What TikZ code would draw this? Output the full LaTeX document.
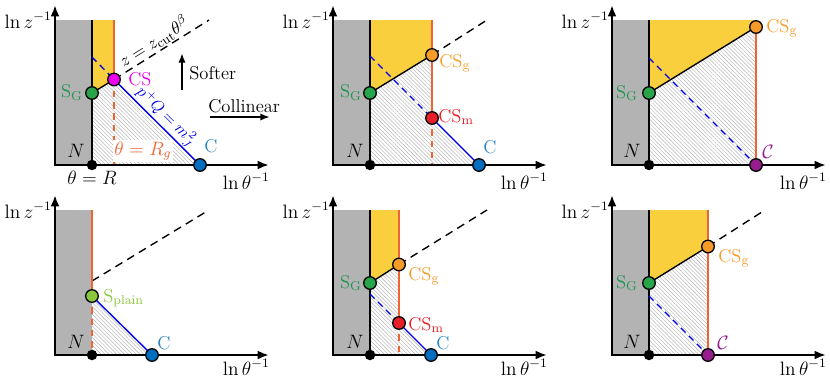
\documentclass[tikz,border=0pt]{standalone}
\usetikzlibrary{arrows.meta,patterns.meta,calc}
\definecolor{grayreg}{RGB}{179,179,179}
\definecolor{yel}{RGB}{250,207,62}
\definecolor{orline}{RGB}{240,100,50}
\definecolor{orpt}{RGB}{246,155,40}
\definecolor{mag}{RGB}{236,0,236}
\definecolor{grn}{RGB}{40,165,75}
\definecolor{grnlab}{RGB}{30,150,80}
\definecolor{lgrn}{RGB}{140,200,60}
\definecolor{redpt}{RGB}{232,30,40}
\definecolor{bluept}{RGB}{0,110,190}
\definecolor{bluelab}{RGB}{40,130,200}
\definecolor{purp}{RGB}{150,30,140}
\definecolor{bline}{RGB}{0,0,235}
\begin{document}
\begin{tikzpicture}[x=0.62pt,y=0.62pt,
  every node/.style={font=\fontsize{11.5}{13.8}\selectfont},
  zfont/.style={font=\fontsize{11}{13}\selectfont},
  pqfont/.style={font=\fontsize{10}{12}\selectfont},
  axis/.style={line width=1.4pt,{Latex[length=7pt,width=5.5pt]}-{Latex[length=7pt,width=5.5pt]}},
  bnd/.style={line width=0.85pt},
  zdash/.style={line width=0.85pt,dash pattern=on 5pt off 3.5pt},
  bl/.style={line width=0.85pt,bline},
  bldash/.style={line width=0.85pt,bline,dash pattern=on 4pt off 3pt},
  orl/.style={line width=0.75pt,orline},
  ordash/.style={line width=0.75pt,orline,dash pattern=on 4pt off 3pt},
  hatch/.style={pattern={Lines[angle=-45,distance=1.7pt,line width=0.28pt]},pattern color=gray!60},
  pt/.style={circle,draw=black,line width=0.8pt,minimum size=7.8pt,inner sep=0pt},
  ndot/.style={circle,fill=black,minimum size=6.5pt,inner sep=0pt},
  lab/.style={inner sep=0pt},
  arr/.style={line width=1pt,-{Latex[length=6pt,width=4.5pt]}},
]
\useasboundingbox (0,0) rectangle (830,381);

% ================= Panel 1 =================
\begin{scope}[shift={(55,216)}]
\coordinate (N1) at (37,0);
\coordinate (SG1) at (37,72);
\coordinate (CS1) at (59,85.5);
\coordinate (C1) at (145,0);
\coordinate (T1) at (37,145);
\coordinate (OT1) at (59,145);
\coordinate (OB1) at (59,0);
\coordinate (Z1) at (154,145);
\coordinate (B1) at (37,108);
\fill[grayreg] (0,0) rectangle (T1);
\fill[yel] (SG1) -- (T1) -- (OT1) -- (CS1) -- cycle;
\fill[hatch] (N1) -- (SG1) -- (CS1) -- (C1) -- cycle;
\draw[bnd] (N1) -- (T1);
\draw[bnd] (SG1) -- (CS1);
\draw[zdash] (CS1) -- (Z1) node[pos=0.48,above,sloped,inner sep=0.8pt,zfont] (zl1) {$z=z_{\rm cut}\theta^\beta$};
\draw[orl] (OT1) -- (CS1);
\draw[ordash] (CS1) -- (OB1);
\draw[bldash] (B1) -- (CS1);
\draw[bl] (CS1) -- (C1) node[pos=0.52,above,sloped,inner sep=0.8pt,text=bline,pqfont] (pq1) {$p^+Q=m_J^2$};
\node[lab,fill=white,inner sep=1pt,anchor=base,text=orline] (rg1) at (88,10) {$\theta=R_g$};
\draw[axis] (214,0) -- (0,0) -- (0,160);
\node[lab,anchor=base east] (lz1) at (-3,137) {$\ln z^{-1}$};
\node[lab,anchor=base east] (lt1) at (215,-24) {$\ln\theta^{-1}$};
\node[lab,anchor=base] (tr1) at (37,-19) {$\theta=R$};
\node[ndot] (n1) at (N1) {};
\node[pt,fill=grn] (sg1) at (SG1) {};
\node[pt,fill=mag] (cs1) at (CS1) {};
\node[pt,fill=bluept] (c1) at (C1) {};
\node[lab,anchor=base east] (ln1) at (30,8) {$N$};
\node[lab,anchor=base east,text=grnlab] (lsg1) at (28,67.5) {S$_\mathrm{G}$};
\node[lab,anchor=base west,text=mag] (lcs1) at (73,80) {CS};
\node[lab,anchor=base west,text=bluelab] (lc1) at (149,13) {C};
\coordinate (sa1) at (127,75);
\coordinate (sb1) at (127,112);
\draw[arr] (sa1) -- (sb1);
\node[lab,anchor=base west] (soft1) at (134,86) {Softer};
\node[lab,anchor=base west] (coll1) at (153,53) {Collinear};
\coordinate (ca1) at (155,48);
\coordinate (cb1) at (215,48);
\draw[arr] (ca1) -- (cb1);
\end{scope}

% ================= Panel 2 =================
\begin{scope}[shift={(333,216)}]
\coordinate (N2) at (37,0);
\coordinate (SG2) at (37,72);
\coordinate (CSg2) at (99,110);
\coordinate (CSm2) at (99,47);
\coordinate (C2) at (146,0);
\coordinate (T2) at (37,145);
\coordinate (OT2) at (99,145);
\coordinate (OB2) at (99,0);
\coordinate (Z2) at (154,145);
\coordinate (B2) at (37,109);
\fill[grayreg] (0,0) rectangle (T2);
\fill[yel] (SG2) -- (T2) -- (OT2) -- (CSg2) -- cycle;
\fill[hatch] (N2) -- (SG2) -- (CSg2) -- (CSm2) -- (C2) -- cycle;
\draw[bnd] (N2) -- (T2);
\draw[bnd] (SG2) -- (CSg2);
\draw[zdash] (CSg2) -- (Z2);
\draw[orl] (OT2) -- (CSm2);
\draw[ordash] (CSm2) -- (OB2);
\draw[bldash] (B2) -- (CSm2);
\draw[bl] (CSm2) -- (C2);
\draw[axis] (214,0) -- (0,0) -- (0,160);
\node[lab,anchor=base east] (lz2) at (-3,137) {$\ln z^{-1}$};
\node[lab,anchor=base east] (lt2) at (215,-24) {$\ln\theta^{-1}$};
\node[ndot] (n2) at (N2) {};
\node[pt,fill=grn] (sg2) at (SG2) {};
\node[pt,fill=orpt] (csg2) at (CSg2) {};
\node[pt,fill=redpt] (csm2) at (CSm2) {};
\node[pt,fill=bluept] (c2) at (C2) {};
\node[lab,anchor=base east] (ln2) at (31,8) {$N$};
\node[lab,anchor=base east,text=grnlab] (lsg2) at (29,67.5) {S$_\mathrm{G}$};
\node[lab,anchor=base west,text=orpt] (lcsg2) at (106,98) {CS$_\mathrm{g}$};
\node[lab,anchor=base west,text=redpt] (lcsm2) at (105,43) {CS$_\mathrm{m}$};
\node[lab,anchor=base west,text=bluelab] (lc2) at (150,12) {C};
\end{scope}

% ================= Panel 3 =================
\begin{scope}[shift={(612,216)}]
\coordinate (N3) at (37,0);
\coordinate (SG3) at (37,72);
\coordinate (CSg3) at (144,138);
\coordinate (CC3) at (144,0);
\coordinate (T3) at (37,145);
\coordinate (OT3) at (144,145);
\coordinate (B3) at (37,107);
\fill[grayreg] (0,0) rectangle (T3);
\fill[yel] (SG3) -- (T3) -- (OT3) -- (CSg3) -- cycle;
\fill[hatch] (N3) -- (SG3) -- (CSg3) -- (CC3) -- cycle;
\draw[bnd] (N3) -- (T3);
\draw[bnd] (SG3) -- (CSg3);
\draw[orl] (CSg3) -- (CC3);
\draw[bldash] (B3) -- (CC3);
\draw[axis] (214,0) -- (0,0) -- (0,160);
\node[lab,anchor=base east] (lz3) at (-3,137) {$\ln z^{-1}$};
\node[lab,anchor=base east] (lt3) at (215,-24) {$\ln\theta^{-1}$};
\node[ndot] (n3) at (N3) {};
\node[pt,fill=grn] (sg3) at (SG3) {};
\node[pt,fill=orpt] (csg3) at (CSg3) {};
\node[pt,fill=purp] (cc3) at (CC3) {};
\node[lab,anchor=base east] (ln3) at (29,8) {$N$};
\node[lab,anchor=base east,text=grnlab] (lsg3) at (26,67) {S$_\mathrm{G}$};
\node[lab,anchor=base west,text=orpt] (lcsg3) at (154,133) {CS$_\mathrm{g}$};
\node[lab,anchor=base west,text=purp] (lcc3) at (150,7) {$\mathcal{C}$};
\end{scope}

% ================= Panel 4 =================
\begin{scope}[shift={(55,26)}]
\coordinate (N4) at (37,0);
\coordinate (SP4) at (37,59);
\coordinate (C4) at (97,0);
\coordinate (T4) at (37,145);
\coordinate (ZS4) at (37,74);
\coordinate (Z4) at (154,145);
\fill[grayreg] (0,0) rectangle (T4);
\fill[hatch] (N4) -- (SP4) -- (C4) -- cycle;
\draw[zdash] (ZS4) -- (Z4);
\draw[orl] (T4) -- (SP4);
\draw[ordash] (SP4) -- (N4);
\draw[bl] (SP4) -- (C4);
\draw[axis] (214,0) -- (0,0) -- (0,160);
\node[lab,anchor=base east] (lz4) at (-3,137) {$\ln z^{-1}$};
\node[lab,anchor=base east] (lt4) at (215,-20) {$\ln\theta^{-1}$};
\node[ndot] (n4) at (N4) {};
\node[pt,fill=lgrn] (sp4) at (SP4) {};
\node[pt,fill=bluept] (c4) at (C4) {};
\node[lab,anchor=base east] (ln4) at (30,7) {$N$};
\node[lab,anchor=base west,text=lgrn] (lsp4) at (48,53) {S$_\mathrm{plain}$};
\node[lab,anchor=base west,text=bluelab] (lc4) at (102,6) {C};
\end{scope}

% ================= Panel 5 =================
\begin{scope}[shift={(333,26)}]
\coordinate (N5) at (37,0);
\coordinate (SG5) at (37,72);
\coordinate (CSg5) at (66,90.5);
\coordinate (CSm5) at (66,32);
\coordinate (C5) at (98,0);
\coordinate (T5) at (37,145);
\coordinate (OT5) at (66,145);
\coordinate (OB5) at (66,0);
\coordinate (Z5) at (154,145);
\coordinate (B5) at (37,61);
\fill[grayreg] (0,0) rectangle (T5);
\fill[yel] (SG5) -- (T5) -- (OT5) -- (CSg5) -- cycle;
\fill[hatch] (N5) -- (SG5) -- (CSg5) -- (CSm5) -- (C5) -- cycle;
\draw[bnd] (N5) -- (T5);
\draw[bnd] (SG5) -- (CSg5);
\draw[zdash] (CSg5) -- (Z5);
\draw[orl] (OT5) -- (CSm5);
\draw[ordash] (CSm5) -- (OB5);
\draw[bldash] (B5) -- (CSm5);
\draw[bl] (CSm5) -- (C5);
\draw[axis] (214,0) -- (0,0) -- (0,160);
\node[lab,anchor=base east] (lz5) at (-3,137) {$\ln z^{-1}$};
\node[lab,anchor=base east] (lt5) at (215,-20) {$\ln\theta^{-1}$};
\node[ndot] (n5) at (N5) {};
\node[pt,fill=grn] (sg5) at (SG5) {};
\node[pt,fill=orpt] (csg5) at (CSg5) {};
\node[pt,fill=redpt] (csm5) at (CSm5) {};
\node[pt,fill=bluept] (c5) at (C5) {};
\node[lab,anchor=base east] (ln5) at (31,7) {$N$};
\node[lab,anchor=base east,text=grnlab] (lsg5) at (29,67) {S$_\mathrm{G}$};
\node[lab,anchor=base west,text=orpt] (lcsg5) at (75,75) {CS$_\mathrm{g}$};
\node[lab,anchor=base west,text=redpt] (lcsm5) at (75,25) {CS$_\mathrm{m}$};
\node[lab,anchor=base west,text=bluelab] (lc5) at (103,6) {C};
\end{scope}

% ================= Panel 6 =================
\begin{scope}[shift={(612,26)}]
\coordinate (N6) at (37,0);
\coordinate (SG6) at (37,72);
\coordinate (CSg6) at (96,108.5);
\coordinate (CC6) at (96,0);
\coordinate (T6) at (37,145);
\coordinate (OT6) at (96,145);
\coordinate (Z6) at (153,145);
\coordinate (B6) at (37,59);
\fill[grayreg] (0,0) rectangle (T6);
\fill[yel] (SG6) -- (T6) -- (OT6) -- (CSg6) -- cycle;
\fill[hatch] (N6) -- (SG6) -- (CSg6) -- (CC6) -- cycle;
\draw[bnd] (N6) -- (T6);
\draw[bnd] (SG6) -- (CSg6);
\draw[zdash] (CSg6) -- (Z6);
\draw[orl] (OT6) -- (CC6);
\draw[bldash] (B6) -- (CC6);
\draw[axis] (214,0) -- (0,0) -- (0,160);
\node[lab,anchor=base east] (lz6) at (-3,137) {$\ln z^{-1}$};
\node[lab,anchor=base east] (lt6) at (215,-20) {$\ln\theta^{-1}$};
\node[ndot] (n6) at (N6) {};
\node[pt,fill=grn] (sg6) at (SG6) {};
\node[pt,fill=orpt] (csg6) at (CSg6) {};
\node[pt,fill=purp] (cc6) at (CC6) {};
\node[lab,anchor=base east] (ln6) at (29,7) {$N$};
\node[lab,anchor=base east,text=grnlab] (lsg6) at (26,67) {S$_\mathrm{G}$};
\node[lab,anchor=base west,text=orpt] (lcsg6) at (106,93) {CS$_\mathrm{g}$};
\node[lab,anchor=base west,text=purp] (lcc6) at (105,6) {$\mathcal{C}$};
\end{scope}
\end{tikzpicture}
\end{document}
